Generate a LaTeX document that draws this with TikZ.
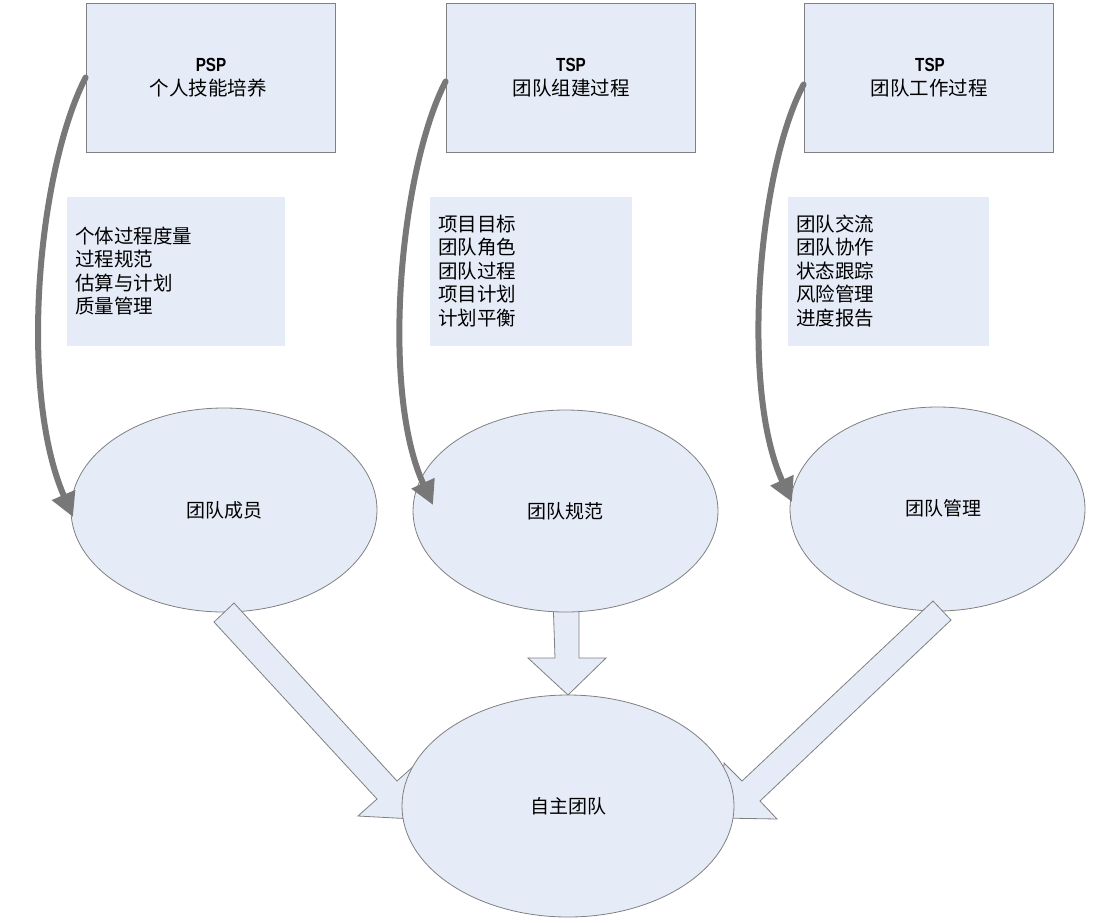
\documentclass[tikz,border=0pt]{standalone}
\usepackage{fontspec}
\usepackage{graphicx}
\setmainfont{Liberation Sans}
\newfontfamily\cjk{Noto Sans CJK SC}
\usetikzlibrary{shapes.geometric,arrows.meta}
\definecolor{boxfill}{HTML}{E6ECF7}
\definecolor{edgegray}{HTML}{808080}
\definecolor{curvegray}{HTML}{787878}
\tikzset{
  topbox/.style={draw=edgegray,line width=0.8pt,fill=boxfill,minimum width=249pt,minimum height=149pt,inner sep=0pt},
  listbox/.style={fill=boxfill,minimum height=149pt,inner sep=0pt},
  listtext/.style={anchor=west,align=left,inner sep=0pt,font=\cjk\fontsize{19.5}{23.5}\selectfont},
  titletext/.style={inner sep=0pt,font=\cjk\fontsize{19.5}{22}\selectfont},
  pstext/.style={inner sep=0pt,font=\bfseries\fontsize{19}{22}\selectfont},
  oval/.style={ellipse,draw=edgegray,line width=0.8pt,fill=boxfill,inner sep=0pt,font=\cjk\fontsize{19}{22}\selectfont},
  blockarrow/.style={draw=edgegray,line width=0.8pt,fill=boxfill,line join=miter},
  curvearrow/.style={draw=curvegray,line width=6pt,line cap=round,-{Triangle[length=24pt,width=24pt]}}
}
\begin{document}
\begin{tikzpicture}[x=1pt,y=-1pt]
\useasboundingbox (0,0) rectangle (1100,922);
\fill[white] (0,0) rectangle (1100,922);

% top boxes
\node[topbox] (b1) at (210.5,77.5) {};
\node[topbox] (b2) at (570.5,77.5) {};
\node[topbox] (b3) at (928.5,77.5) {};
\node[pstext] (p1) at (211,65) {\scalebox{0.8}[1]{PSP}};
\node[titletext] (q1) at (208,88) {个人技能培养};
\node[pstext] (p2) at (571,65) {\scalebox{0.8}[1]{TSP}};
\node[titletext] (q2) at (571,88) {团队组建过程};
\node[pstext] (p3) at (930,65) {\scalebox{0.8}[1]{TSP}};
\node[titletext] (q3) at (929,88) {团队工作过程};

% list boxes
\node[listbox,minimum width=218pt] (l1) at (176,271.5) {};
\node[listbox,minimum width=202pt] (l2) at (531,271.5) {};
\node[listbox,minimum width=201pt] (l3) at (888.5,271.5) {};
\node[listtext] (lt1) at (75,271) {个体过程度量\\过程规范\\估算与计划\\质量管理};
\node[listtext] (lt2) at (438,271) {项目目标\\团队角色\\团队过程\\项目计划\\计划平衡};
\node[listtext] (lt3) at (796,271) {团队交流\\团队协作\\状态跟踪\\风险管理\\进度报告};

% middle block arrow (behind upper ellipse)
\path[blockarrow] (553,598) -- (579,598) -- (579,658) -- (606,658) -- (568,695) -- (528,658) -- (555,658) -- cycle;

% upper ellipses
\node[oval,minimum width=306pt,minimum height=204pt] (e1) at (224,510) {团队成员};
\node[oval,minimum width=305pt,minimum height=202pt] (e2) at (565.5,511) {团队规范};
\node[oval,minimum width=295pt,minimum height=204pt] (e3) at (937.5,509) {};
\node[inner sep=0pt,font=\cjk\fontsize{19}{22}\selectfont] (e3t) at (943,508) {团队管理};

% side block arrows
\path[blockarrow] (214,622) -- (234,603) -- (397,781) -- (416,764) -- (414,819) -- (358,816) -- (377,799) -- cycle;
\path[blockarrow] (933,601) -- (951,620) -- (760,801) -- (777,819) -- (721,818) -- (724,763) -- (742,781) -- cycle;

% bottom ellipse
\node[oval,minimum width=332pt,minimum height=222pt] (e4) at (568,806) {自主团队};

% curved arrows
\coordinate (c1) at (73,517);
\coordinate (c2) at (433,505);
\coordinate (c3) at (792,502);
\draw[curvearrow] (b1.west) .. controls (38,170) and (18,390) .. (c1);
\draw[curvearrow] ([yshift=-4pt]b2.west) .. controls (400,170) and (380,390) .. (c2);
\draw[curvearrow] ([yshift=-7pt]b3.west) .. controls (758,170) and (740,390) .. (c3);
\end{tikzpicture}
\end{document}
